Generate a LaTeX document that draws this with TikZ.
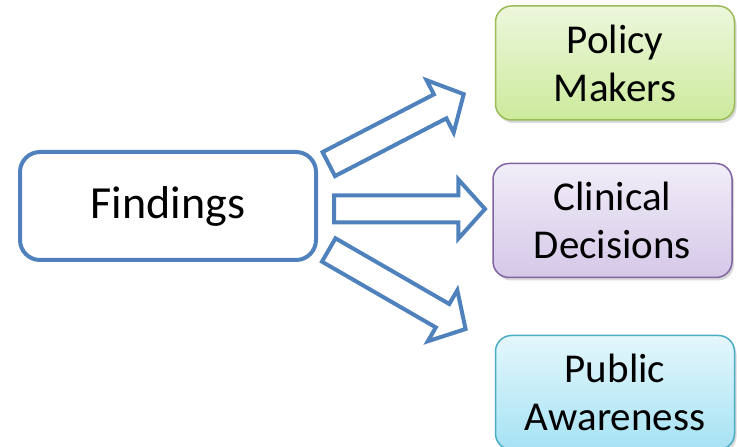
\documentclass[tikz,border=0pt]{standalone}
\usepackage{fontspec}
\setmainfont{Carlito}
\usetikzlibrary{shapes.arrows,shadows}
\definecolor{findblue}{RGB}{79,129,189}
\definecolor{polgreen}{RGB}{155,187,89}
\definecolor{polgreentop}{RGB}{237,247,220}
\definecolor{polgreenbot}{RGB}{204,234,156}
\definecolor{clinpurple}{RGB}{128,100,162}
\definecolor{clinpurpletop}{RGB}{241,237,248}
\definecolor{clinpurplebot}{RGB}{213,200,232}
\definecolor{pubcyan}{RGB}{75,172,198}
\definecolor{pubcyantop}{RGB}{228,247,252}
\definecolor{pubcyanbot}{RGB}{166,226,244}

\begin{document}
\begin{tikzpicture}[x=1pt, y=1pt,
    target/.style={draw, line width=1.5pt, rounded corners=16pt, minimum width=239pt,
        minimum height=114pt, align=center, font=\fontsize{41}{48}\selectfont,
        drop shadow={opacity=0.3, shadow xshift=2pt, shadow yshift=-3pt}},
    bigarrow/.style={single arrow, draw=findblue, fill=white, line width=4pt,
        inner xsep=0pt, inner ysep=11.5pt, minimum width=56pt, anchor=tail,
        single arrow head extend=16pt, single arrow tip angle=96}]
    \useasboundingbox (0,0) rectangle (737,447);

    \node[draw=findblue, line width=4pt, rounded corners=20pt, minimum width=296pt,
        minimum height=108pt, font=\fontsize{46}{55}\selectfont] (f) at (168,241) {Findings};

    \node[target, draw=polgreen, top color=polgreentop, bottom color=polgreenbot] (p) at (615,384) {Policy\\Makers};
    \node[target, draw=clinpurple, top color=clinpurpletop, bottom color=clinpurplebot] (c) at (612.5,226.5) {Clinical\\Decisions};
    \node[target, draw=pubcyan, top color=pubcyantop, bottom color=pubcyanbot] (a) at (615,54.5) {Public\\Awareness};

    \node[bigarrow, rotate=27.4, minimum height=152pt] (fp) at (327,282) {};
    \node[bigarrow, minimum height=151pt] (fc) at (332,238) {};
    \node[bigarrow, rotate=-30, minimum height=158pt] (fa) at (327,198) {};
\end{tikzpicture}
\end{document}
